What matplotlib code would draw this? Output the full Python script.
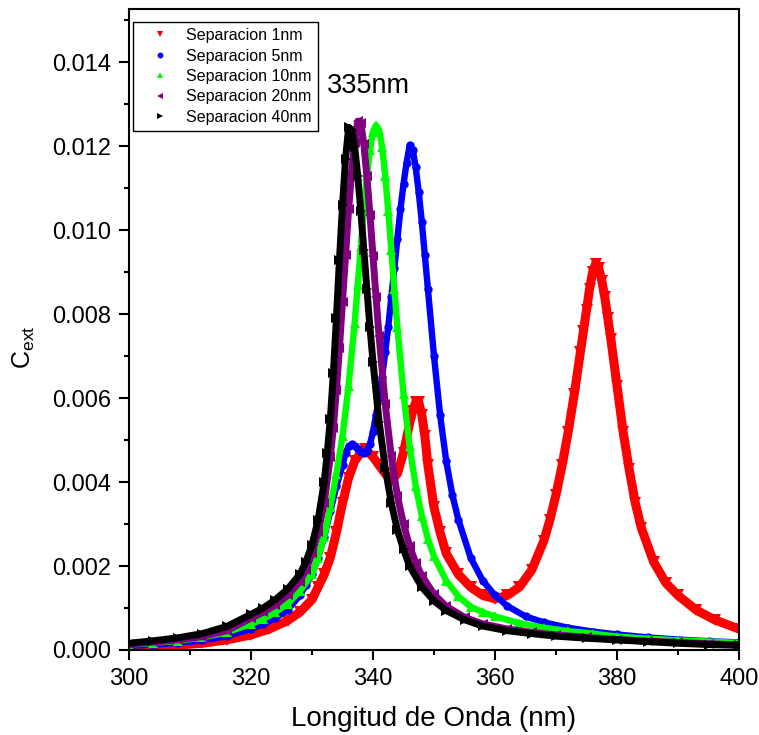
import matplotlib
matplotlib.use("Agg")
import matplotlib.pyplot as plt
from matplotlib.ticker import MultipleLocator, FormatStrFormatter
from matplotlib.lines import Line2D

plt.rcParams['font.family'] = ['Liberation Sans', 'DejaVu Sans']
plt.rcParams['mathtext.default'] = 'regular'

# ---------------- data ----------------
wl_1nm = [300, 304, 308, 312, 316, 320, 323, 326, 328, 330, 331, 332, 333, 334, 335, 336, 337, 338,
          338.7, 339, 340, 341, 342, 343, 344, 345, 346, 346.5, 347, 347.5, 348, 348.5, 349, 350, 351,
          352, 354, 356, 358, 360, 362, 364, 366, 368, 369, 370, 371, 372, 373, 374, 374.5, 375, 375.5,
          376, 376.5, 377, 377.5, 378, 378.5, 379, 380, 381, 382, 383, 384, 386, 388, 390, 393, 396, 400]
cext_1nm = [0.00007, 0.00009, 0.00012, 0.00016, 0.00024, 0.00036, 0.0005, 0.0007, 0.0009, 0.0012,
            0.0015, 0.0018, 0.0022, 0.0028, 0.0035, 0.0041, 0.0045, 0.0047, 0.0048, 0.00475, 0.0046,
            0.0044, 0.0042, 0.00405, 0.0042, 0.0047, 0.0054, 0.0057, 0.0059, 0.0059, 0.0056, 0.0051,
            0.0044, 0.0034, 0.0028, 0.0023, 0.0018, 0.0015, 0.0013, 0.00122, 0.0013, 0.0015, 0.0019,
            0.0026, 0.0031, 0.0037, 0.0044, 0.0052, 0.0061, 0.0071, 0.0076, 0.0081, 0.0086, 0.0090,
            0.0092, 0.0091, 0.0088, 0.0084, 0.0079, 0.0074, 0.0063, 0.0052, 0.0043, 0.0035, 0.0029,
            0.0021, 0.0016, 0.0013, 0.00095, 0.00072, 0.0005]

wl_5nm = [300, 304, 308, 312, 316, 320, 322, 324, 326, 328, 329, 330, 331, 332, 333, 334, 335, 335.5,
          336, 336.5, 337, 337.5, 338, 338.5, 339, 339.5, 340, 340.5, 341, 341.5, 342, 342.5, 343,
          343.5, 344, 344.5, 345, 345.5, 346, 346.5, 347, 347.5, 348, 348.5, 349, 350, 351, 352, 353,
          354, 356, 358, 360, 362, 365, 368, 372, 376, 380, 385, 390, 395, 400]
cext_5nm = [0.0001, 0.00013, 0.00017, 0.00023, 0.00033, 0.0005, 0.00062, 0.00076, 0.00095, 0.0013,
            0.00155, 0.0018, 0.0022, 0.0027, 0.0033, 0.0039, 0.0044, 0.0047, 0.00485, 0.0049, 0.00485,
            0.0048, 0.00472, 0.0047, 0.00475, 0.0049, 0.0052, 0.0056, 0.0060, 0.0065, 0.0071, 0.0077,
            0.0084, 0.0091, 0.0098, 0.0105, 0.0111, 0.0116, 0.01202, 0.01192, 0.0115, 0.0109, 0.0102,
            0.0094, 0.0086, 0.0070, 0.0056, 0.0045, 0.0037, 0.0031, 0.0022, 0.00165, 0.0013, 0.00105,
            0.0008, 0.00066, 0.00053, 0.00044, 0.00037, 0.0003, 0.00025, 0.00021, 0.00018]

wl_10nm = [300, 304, 308, 312, 316, 320, 322, 324, 326, 328, 330, 331, 332, 333, 334, 335, 336, 337,
           337.5, 338, 338.5, 339, 339.5, 340, 340.5, 341, 341.5, 342, 342.5, 343, 343.5, 344, 345,
           346, 347, 348, 349, 350, 352, 354, 356, 358, 360, 364, 368, 372, 376, 380, 385, 390, 395, 400]
cext_10nm = [0.00013, 0.00017, 0.00022, 0.0003, 0.00042, 0.00062, 0.00074, 0.0009, 0.0011, 0.0014,
             0.0018, 0.0022, 0.0027, 0.0034, 0.0042, 0.0051, 0.0063, 0.0078, 0.0087, 0.0096,
             0.0105, 0.0113, 0.0119, 0.01235, 0.0125, 0.01239, 0.01198, 0.0113, 0.01046, 0.00953,
             0.00859, 0.00769, 0.00611, 0.00485, 0.0039, 0.0032, 0.00265, 0.00223, 0.00165, 0.00128,
             0.00103, 0.0009, 0.0008, 0.00064, 0.00053, 0.00045, 0.00039, 0.00032, 0.00027, 0.00023,
             0.0002, 0.00017]

wl_20nm = [300, 304, 308, 312, 316, 320, 322, 324, 326, 328, 329, 330, 331, 332, 333, 333.5, 334, 334.5,
           335, 335.5, 336, 336.5, 337, 337.5, 338, 338.5, 339, 339.5, 340, 340.5, 341, 342, 343, 344,
           345, 346, 347, 348, 350, 352, 355, 358, 362, 366, 370, 375, 380, 385, 390, 395, 400]
cext_20nm = [0.00014, 0.00019, 0.00024, 0.00032, 0.00046, 0.00076, 0.0009, 0.00107, 0.0013, 0.00163,
             0.0019, 0.0023, 0.0028, 0.0035, 0.0046, 0.0053, 0.0062, 0.0072, 0.0083, 0.0094, 0.0105,
             0.0114, 0.0121, 0.0126, 0.01255, 0.01205, 0.01128, 0.01037, 0.00938, 0.0084, 0.00747,
             0.00586, 0.00461, 0.00367, 0.003, 0.00247, 0.00208, 0.00177, 0.00133, 0.00104, 0.00078,
             0.00062, 0.0005, 0.00042, 0.00036, 0.0003, 0.00025, 0.00021, 0.00018, 0.00015, 0.00012]

wl_40nm = [300, 304, 308, 312, 316, 320, 322, 324, 326, 328, 329, 330, 331, 332, 332.5, 333, 333.5, 334,
           334.5, 335, 335.5, 336, 336.5, 337, 337.5, 338, 338.5, 339, 339.5, 340, 341, 342, 343, 344,
           345, 346, 348, 350, 352, 355, 358, 362, 366, 370, 375, 380, 385, 390, 395, 400]
cext_40nm = [0.00016, 0.00022, 0.00029, 0.00039, 0.00056, 0.00085, 0.001, 0.0012, 0.00145, 0.0018,
             0.0021, 0.0025, 0.0031, 0.0040, 0.0047, 0.0055, 0.0066, 0.0079, 0.0093, 0.0106, 0.0117,
             0.01245, 0.01239, 0.01198, 0.0113, 0.01046, 0.00953, 0.00859, 0.00769, 0.00686,
             0.00544, 0.00434, 0.0035, 0.00286, 0.0024, 0.002, 0.0015, 0.00117, 0.00094, 0.00072,
             0.00057, 0.00046, 0.00039, 0.00033, 0.00028, 0.00024, 0.0002, 0.00016, 0.00013, 0.00011]

labels = ["Separacion 1nm", "Separacion 5nm", "Separacion 10nm", "Separacion 20nm", "Separacion 40nm"]
annotation_text = "335nm"

# ---------------- styling ----------------
series = [
    (wl_1nm, cext_1nm, '#ff0000', 'v', 6.5, 9.0),
    (wl_5nm, cext_5nm, '#0000ff', 'o', 4.6, 6.0),
    (wl_10nm, cext_10nm, '#00ff00', '^', 4.6, 7.0),
    (wl_20nm, cext_20nm, '#800080', '<', 5.0, 7.0),
    (wl_40nm, cext_40nm, '#000000', '>', 5.0, 7.0),
]

fig = plt.figure(figsize=(7.59, 7.35), dpi=100)
ax = fig.add_axes([129 / 759, 1 - 650 / 735, 610 / 759, 641 / 735])

handles = []
for (x, y, c, m, lw, ms), lab in zip(series, labels):
    ax.plot(x, y, color=c, lw=lw, solid_joinstyle='round', solid_capstyle='round')
    ax.plot(x, y, ls='none', marker=m, color=c, ms=ms, mec=c, mew=0)
    handles.append(Line2D([], [], ls='none', marker=m, color=c, ms=4.2, mew=0, label=lab))

ax.set_xlim(300, 400)
ax.set_ylim(0, 0.01527)
ax.xaxis.set_major_locator(MultipleLocator(20))
ax.xaxis.set_minor_locator(MultipleLocator(10))
ax.yaxis.set_major_locator(MultipleLocator(0.002))
ax.yaxis.set_minor_locator(MultipleLocator(0.001))
ax.yaxis.set_major_formatter(FormatStrFormatter('%.3f'))

for sp in ax.spines.values():
    sp.set_linewidth(1.5)
ax.tick_params(which='major', direction='out', length=7.2, width=1.5, labelsize=17, pad=5.5,
               top=False, right=False)
ax.tick_params(which='minor', direction='out', length=3.8, width=1.5, top=False, right=False)

ax.set_xlabel("Longitud de Onda (nm)", fontsize=20, labelpad=12)
ax.set_ylabel("C$_{ext}$", fontsize=18, labelpad=11, y=0.472)

ax.text(332.5, 0.01326, annotation_text, fontsize=19.5, va='baseline', ha='left')

leg = ax.legend(handles=handles, loc='upper left', bbox_to_anchor=(0.0066, 0.9797),
                borderaxespad=0, fontsize=11.5, frameon=True, fancybox=False,
                edgecolor='black', framealpha=1, handlelength=2.6, handletextpad=0.35,
                borderpad=0.38, labelspacing=0.34, numpoints=1)
leg.get_frame().set_linewidth(1.0)

fig.savefig("out.png", dpi=100)
